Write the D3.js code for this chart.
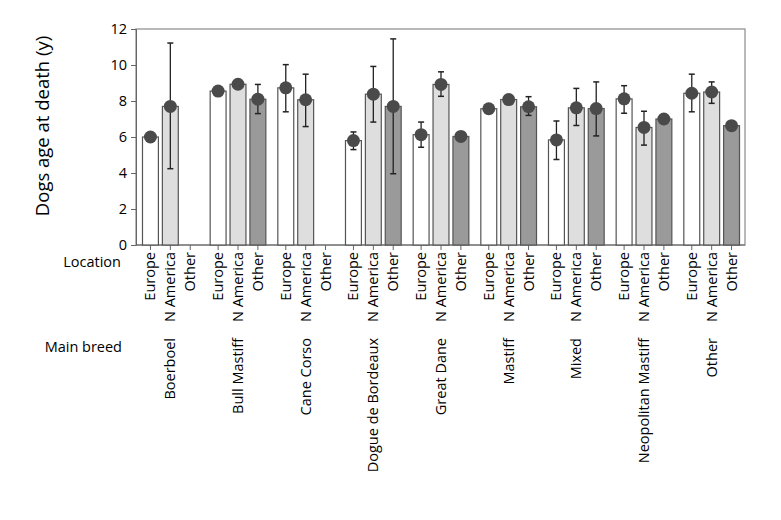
<!DOCTYPE html>
<html><head><meta charset="utf-8">
<script src="https://cdn.jsdelivr.net/npm/d3@7/dist/d3.min.js"></script>
<style>body{margin:0;background:#fff}svg{display:block}text{font-family:"Open Sans","Noto Sans",sans-serif;fill:#000}</style>
</head><body><svg id="c" width="781" height="520"></svg>
<script>
const breeds = ["Boerboel","Bull Mastiff","Cane Corso","Dogue de Bordeaux","Great Dane","Mastiff","Mixed","Neopolitan Mastiff","Other"];
const locations = ["Europe","N America","Other"];
// mean age per breed, by location (null = no data)
const europe   = [6.0, 8.55, 8.73, 5.8, 6.13, 7.57, 5.84, 8.12, 8.43];
const nAmerica = [7.7, 8.93, 8.07, 8.38, 8.92, 8.08, 7.62, 6.53, 8.5];
const other    = [null, 8.1, null, 7.7, 6.03, 7.68, 7.58, 7.0, 6.63];
// error bar lows / highs (null = none)
const europeLo   = [null, null, 7.4, 5.3, 5.43, null, 4.75, 7.32, 7.4];
const europeHi   = [null, null, 10.02, 6.28, 6.83, null, 6.89, 8.85, 9.49];
const nAmericaLo = [4.24, null, 6.58, 6.83, 8.26, null, 6.64, 5.55, 7.87];
const nAmericaHi = [11.22, null, 9.49, 9.92, 9.62, null, 8.7, 7.43, 9.06];
const otherLo    = [null, 7.3, null, 3.96, null, 7.2, 6.06, null, null];
const otherHi    = [null, 8.92, null, 11.45, null, 8.24, 9.06, null, null];
const yTicks = [0,2,4,6,8,10,12];

const series = [
  {loc:"Europe", v:europe, lo:europeLo, hi:europeHi, fill:"#ffffff"},
  {loc:"N America", v:nAmerica, lo:nAmericaLo, hi:nAmericaHi, fill:"#dedede"},
  {loc:"Other", v:other, lo:otherLo, hi:otherHi, fill:"#9a9a9a"}
];
const rows = [];
breeds.forEach((b,i)=>series.forEach(s=>rows.push({breed:b, loc:s.loc, v:s.v[i], lo:s.lo[i], hi:s.hi[i], fill:s.fill})));

const svg = d3.select("#c");
const L=136, R=745, T=29, B=245;
const x0 = d3.scaleBand().domain(breeds).range([L,R]).padding(0);
const x1 = d3.scaleBand().domain(locations).range([4.5, x0.bandwidth()-3.5]).paddingInner(0.2).paddingOuter(0.1);
const y = d3.scaleLinear().domain([0,12]).range([B,T]);
const cx = d => x0(d.breed)+x1(d.loc)+x1.bandwidth()/2;

// frame
svg.append("rect").attr("x",L).attr("y",T).attr("width",R-L).attr("height",B-T)
  .attr("fill","none").attr("stroke","#8a8a8a").attr("stroke-width",1.2);

// y axis
const ya = svg.append("g").attr("transform",`translate(${L},0)`)
  .call(d3.axisLeft(y).tickValues(yTicks).tickSize(5).tickPadding(4));
ya.select(".domain").attr("stroke","#666");
ya.selectAll(".tick line").attr("stroke","#666");
ya.selectAll("text").style("font-size","14.5px").attr("fill","#000");

// x axis (location ticks)
const g = svg.append("g");
const xa = g.append("g").attr("transform",`translate(0,${B})`);
xa.append("line").attr("x1",L).attr("x2",R).attr("y1",0).attr("y2",0).attr("stroke","#666");
xa.selectAll("line.t").data(rows).join("line").attr("class","t")
  .attr("x1",cx).attr("x2",cx).attr("y1",0).attr("y2",5).attr("stroke","#666");
xa.selectAll("text.loc").data(rows).join("text").attr("class","loc")
  .attr("transform",d=>`translate(${cx(d)+5},7) rotate(-90)`)
  .attr("text-anchor","end").style("font-size","14.5px").text(d=>d.loc);

// breed labels
svg.selectAll("text.breed").data(breeds).join("text").attr("class","breed")
  .attr("transform",b=>`translate(${x0(b)+x1("N America")+x1.bandwidth()/2+5},338) rotate(-90)`)
  .attr("text-anchor","end").style("font-size","14.5px").text(b=>b);

svg.append("text").attr("x",121).attr("y",267).attr("text-anchor","end").style("font-size","14.5px").text("Location");
svg.append("text").attr("x",122).attr("y",352).attr("text-anchor","end").style("font-size","14.5px").text("Main breed");
svg.append("text").attr("transform","translate(49,126) rotate(-90)").attr("text-anchor","middle")
  .style("font-size","18.5px").text("Dogs age at death (y)");

// bars
const data = rows.filter(d=>d.v!=null);
svg.selectAll("rect.bar").data(data).join("rect").attr("class","bar")
  .attr("x",d=>x0(d.breed)+x1(d.loc)).attr("width",x1.bandwidth())
  .attr("y",d=>y(d.v)).attr("height",d=>y(0)-y(d.v))
  .attr("fill",d=>d.fill).attr("stroke","#555").attr("stroke-width",1.2);

// error bars
const eb = data.filter(d=>d.lo!=null);
svg.selectAll("line.eb").data(eb).join("line").attr("class","eb")
  .attr("x1",cx).attr("x2",cx).attr("y1",d=>y(d.hi)).attr("y2",d=>y(d.lo)).attr("stroke","#222").attr("stroke-width",1.3);
["hi","lo"].forEach(k=>{
  svg.selectAll("line.cap"+k).data(eb).join("line").attr("class","cap"+k)
    .attr("x1",d=>cx(d)-3).attr("x2",d=>cx(d)+3).attr("y1",d=>y(d[k])).attr("y2",d=>y(d[k]))
    .attr("stroke","#222").attr("stroke-width",1.5);
});

// points
svg.selectAll("circle.pt").data(data).join("circle").attr("class","pt")
  .attr("cx",cx).attr("cy",d=>y(d.v)).attr("r",6.5).attr("fill","#4a4a4a");
</script></body></html>
